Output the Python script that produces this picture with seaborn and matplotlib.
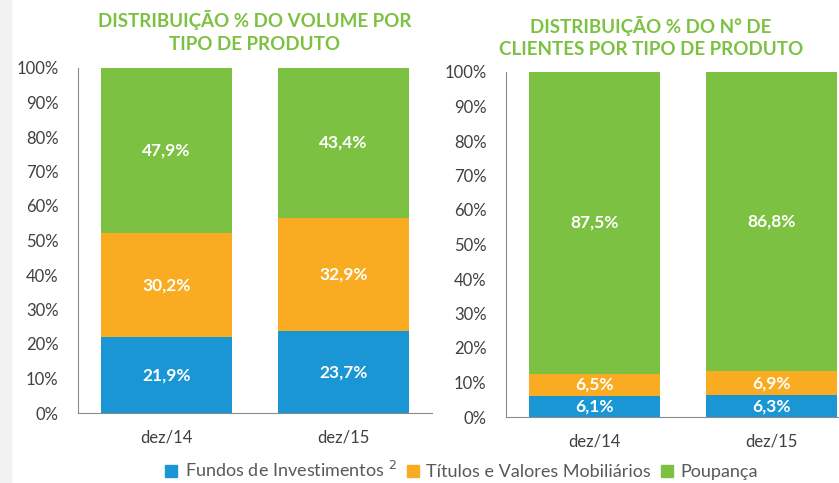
import numpy as np
import pandas as pd
import seaborn as sns
import matplotlib.pyplot as plt
from matplotlib.lines import Line2D
from matplotlib.patches import Rectangle

sns.set_style("white")
plt.rcParams['font.family'] = ['Lato', 'DejaVu Sans']

periods = ['dez/14', 'dez/15']
series = ['Fundos de Investimentos $^{2}$', 'Títulos e Valores Mobiliários', 'Poupança']
colors = ['#1996D3', '#F9AB22', '#7DC142']

# distribuição % do volume
vol_fundos = [21.9, 23.7]
vol_titulos = [30.2, 32.9]
vol_poupanca = [47.9, 43.4]

# distribuição % do nº de clientes
cli_fundos = [6.1, 6.3]
cli_titulos = [6.5, 6.9]
cli_poupanca = [87.5, 86.8]

titles = ['DISTRIBUIÇÃO % DO VOLUME POR\nTIPO DE PRODUTO',
          'DISTRIBUIÇÃO % DO N° DE\nCLIENTES POR TIPO DE PRODUTO']

fig = plt.figure(figsize=(8.39, 4.83), dpi=100)
fig.patches.append(Rectangle((0, 0), 11/839, 1, transform=fig.transFigure,
                             color='#F2F2F2', zorder=-1))

ax1 = fig.add_axes([78/839, 70/483, 354/839, 345/483])
ax2 = fig.add_axes([506/839, 66/483, 354/839, 345/483])


def stacked(ax, fundos, titulos, poupanca, title, title_y):
    df = pd.DataFrame({'periodo': periods, 'fundos': fundos,
                       'titulos': titulos, 'poupanca': poupanca})
    df['c1'] = df['fundos']
    df['c2'] = df['fundos'] + df['titulos']
    df['c3'] = np.minimum(df['c2'] + df['poupanca'], 100)
    for col, c in zip(['c3', 'c2', 'c1'], colors[::-1]):
        sns.barplot(data=df, x='periodo', y=col, color=c, width=0.74,
                    saturation=1, ax=ax, edgecolor='none')
    for i, row in df.iterrows():
        mids = [row['fundos']/2, row['fundos'] + row['titulos']/2,
                row['c2'] + (row['c3'] - row['c2'])/2]
        vals = [row['fundos'], row['titulos'], row['poupanca']]
        for m, v in zip(mids, vals):
            ax.text(i, m, f"{v:.1f}%".replace('.', ','), ha='center', va='center',
                    color='white', fontsize=12.5, fontweight='bold')
    ax.set_ylim(0, 100)
    ax.set_xlim(-0.5, 1.5)
    ax.set_yticks(np.arange(0, 101, 10))
    ax.set_yticklabels([f"{t}%" for t in range(0, 101, 10)])
    ax.set_xlabel('')
    ax.set_ylabel('')
    ax.tick_params(axis='both', labelsize=12, colors='#404040', length=0)
    ax.tick_params(axis='y', pad=14)
    ax.tick_params(axis='x', pad=12)
    for s in ['top', 'right']:
        ax.spines[s].set_visible(False)
    for s in ['left', 'bottom']:
        ax.spines[s].set_color('#8C8C8C')
        ax.spines[s].set_linewidth(0.8)
    ax.set_title(title, color='#7DC142', fontsize=13.5, fontweight='bold',
                 linespacing=1.4, pad=title_y)


stacked(ax1, vol_fundos, vol_titulos, vol_poupanca, titles[0], 13)
stacked(ax2, cli_fundos, cli_titulos, cli_poupanca, titles[1], 12)
ax2.title.set_position((0.41, 1.0))

handles = [Line2D([], [], marker='s', linestyle='none', color=c, markersize=9)
           for c in colors]
fig.legend(handles, series, loc='center', bbox_to_anchor=(461/839, 13/483),
           ncol=3, frameon=False, fontsize=13, handlelength=0.8,
           handletextpad=0.35, columnspacing=0.5, labelcolor='#595959')

fig.savefig('out.png', dpi=100)
